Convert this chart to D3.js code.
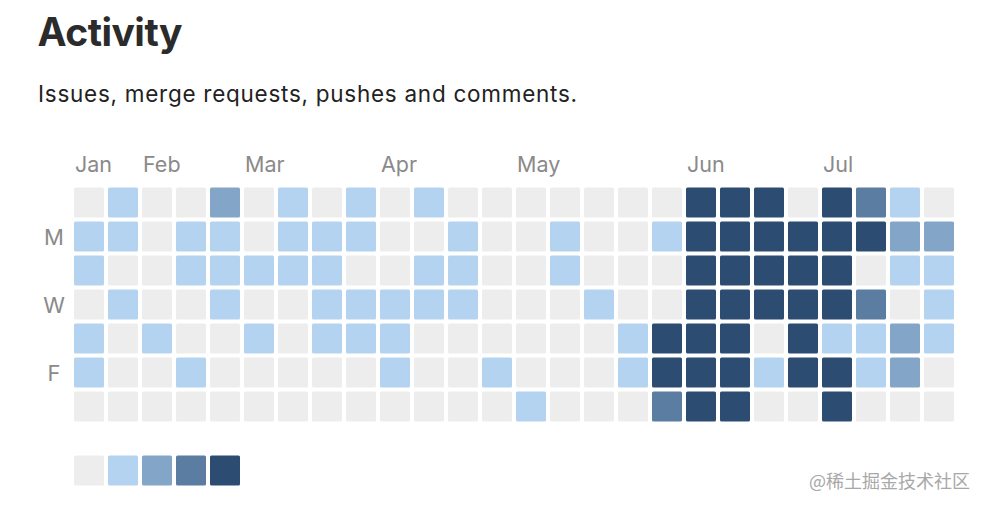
<!DOCTYPE html>
<html><head><meta charset="utf-8">
<script src="https://cdn.jsdelivr.net/npm/d3@7"></script>
<style>html,body{margin:0;padding:0;background:#fff;}svg{display:block;}</style>
</head><body>
<svg id="c" width="986" height="508"></svg>
<script>
// activity level (0-4) per weekday row, 26 weeks each
const sun = [0,1,0,0,2,0,1,0,1,0,1,0,0,0,0,0,0,0,4,4,4,0,4,3,1,0];
const mon = [1,1,0,1,1,0,1,1,1,0,0,1,0,0,1,0,0,1,4,4,4,4,4,4,2,2];
const tue = [1,0,0,1,1,1,1,1,0,0,1,1,0,0,1,0,0,0,4,4,4,4,4,0,1,1];
const wed = [0,1,0,0,1,0,0,1,1,1,1,1,0,0,0,1,0,0,4,4,4,4,4,3,0,1];
const thu = [1,0,1,0,0,1,0,1,1,1,0,0,0,0,0,0,1,4,4,4,0,4,1,1,2,1];
const fri = [1,0,0,1,0,0,0,0,0,1,0,0,1,0,0,0,1,4,4,4,1,4,4,1,2,0];
const sat = [0,0,0,0,0,0,0,0,0,0,0,0,0,1,0,0,0,3,4,4,0,0,4,0,0,0];
const rows = [sun, mon, tue, wed, thu, fri, sat];
const dayLabels = ["", "M", "", "W", "", "F", ""];
const monthLabels = ["Jan","Feb","Mar","Apr","May","Jun","Jul"];
const monthWeeks = [0,2,5,9,13,18,22];
const levels = [0,1,2,3,4];
const levelColors = ["#ededed","#b3d3f0","#83a6c8","#5b7da2","#2d4c72"];

const svg = d3.select("#c");
const font = "Inter, 'Helvetica Neue', 'Liberation Sans', sans-serif";

svg.append("text").attr("x",37.5).attr("y",45.5).attr("font-family",font)
  .attr("font-weight",700).attr("font-size",39).attr("fill","#2b2b2b")
  .attr("textLength",145).attr("lengthAdjust","spacing").text("Activity");
svg.append("text").attr("x",38).attr("y",102).attr("font-family",font)
  .attr("font-size",22.5).attr("fill","#222")
  .attr("textLength",539).attr("lengthAdjust","spacing")
  .text("Issues, merge requests, pushes and comments.");

const nWeeks = sun.length;
const x = d3.scaleBand().domain(d3.range(nWeeks)).range([74, 74 + nWeeks*34 - 4]).paddingInner(4/34);
const y = d3.scaleBand().domain(d3.range(7)).range([187.5, 187.5 + 7*34 - 4]).paddingInner(4/34);
const color = d3.scaleOrdinal().domain(levels).range(levelColors);

const cells = [];
rows.forEach((r, ri) => r.forEach((v, wi) => cells.push({w: wi, d: ri, v})));

svg.append("g").selectAll("rect").data(cells).join("rect")
  .attr("x", d => x(d.w)).attr("y", d => y(d.d))
  .attr("width", x.bandwidth()).attr("height", y.bandwidth())
  .attr("rx", 1.5).attr("fill", d => color(d.v));

svg.append("g").selectAll("text").data(monthLabels).join("text")
  .attr("x", (d,i) => x(monthWeeks[i]) + 1).attr("y", 172)
  .attr("font-family", font).attr("font-size", 21.5).attr("fill", "#8a8a8a")
  .text(d => d);

svg.append("g").selectAll("text").data(dayLabels).join("text")
  .attr("x", 54).attr("y", (d,i) => y(i) + y.bandwidth()/2 + 8)
  .attr("text-anchor","middle")
  .attr("font-family", font).attr("font-size", 22).attr("fill", "#8a8a8a")
  .text(d => d);

const lx = d3.scaleBand().domain(levels).range([74, 74 + 5*34 - 4]).paddingInner(4/34);
svg.append("g").selectAll("rect").data(levels).join("rect")
  .attr("x", d => lx(d)).attr("y", 455.5)
  .attr("width", lx.bandwidth()).attr("height", 30)
  .attr("rx", 1.5).attr("fill", d => color(d));

svg.append("text").attr("x", 970).attr("y", 488).attr("text-anchor","end")
  .attr("font-family","'Noto Sans CJK SC', sans-serif").attr("font-size",18)
  .attr("fill","#a8a8a8").text("@稀土掘金技术社区");
</script>
</body></html>
